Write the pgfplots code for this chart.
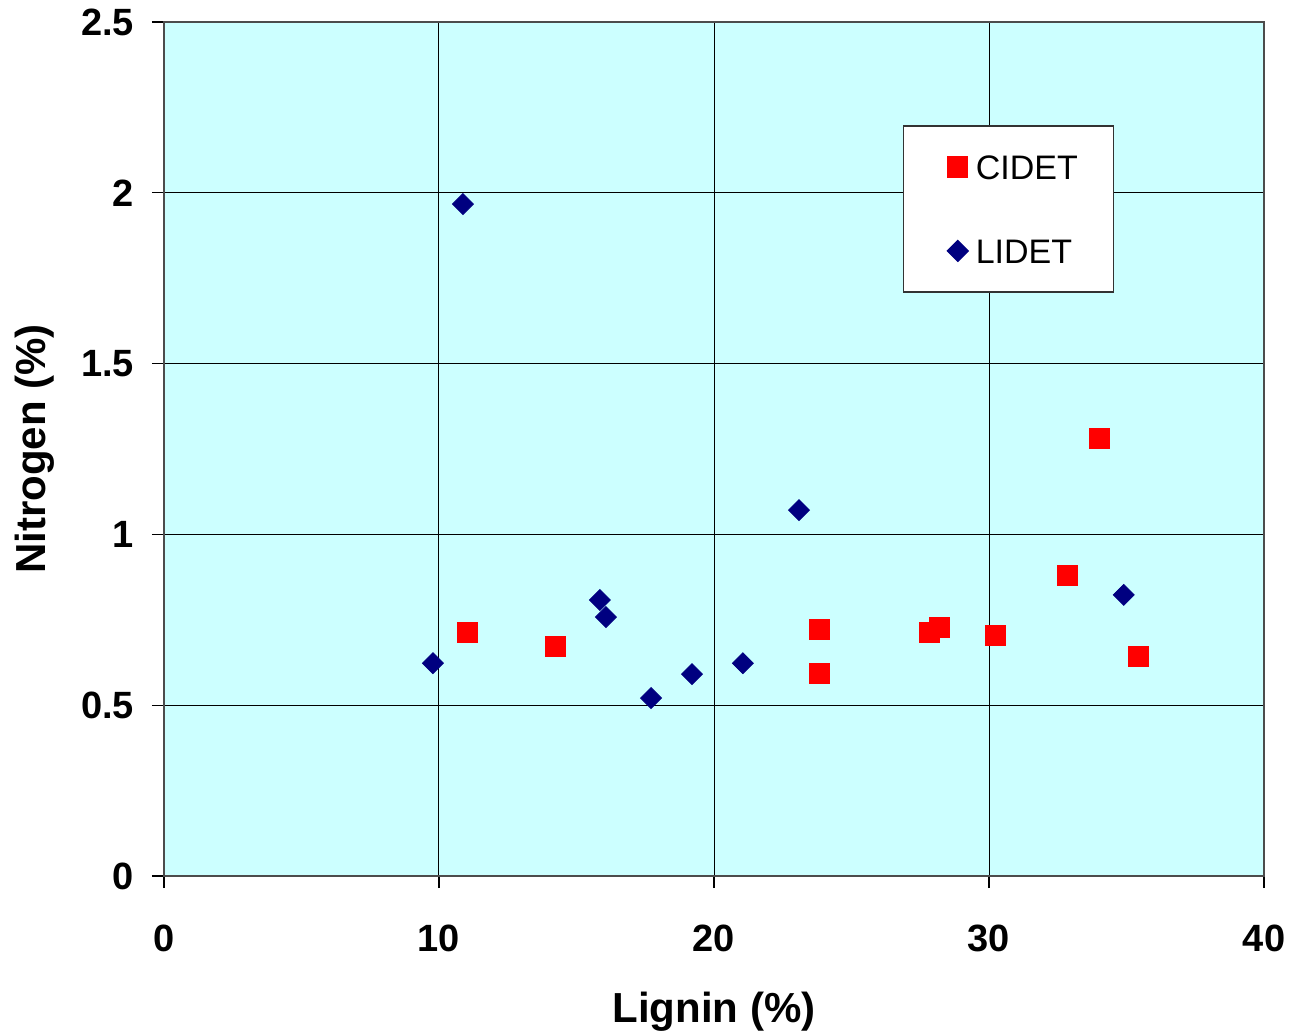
\documentclass[border=0pt]{standalone}
\usepackage{fontspec}
\setmainfont{Liberation Sans}
\usepackage{pgfplots}
\pgfplotsset{compat=1.18}
\definecolor{bgcyan}{HTML}{CCFFFF}
\definecolor{navyblue}{HTML}{000080}
\begin{document}
\begin{tikzpicture}
\path[use as bounding box] (-82pt,-79pt) rectangle (564pt,438pt);
\begin{axis}[
  width=550pt, height=427pt, scale only axis,
  xmin=0, xmax=40, ymin=0, ymax=2.5,
  xtick={0,10,20,30,40}, ytick={0,0.5,1,1.5,2,2.5},
  yticklabels={0,0.5,1,1.5,2,2.5},
  axis background/.style={fill=bgcyan},
  grid=major, major grid style={black, line width=0.5pt},
  axis line style={black!70, line width=0.8pt},
  tick align=outside, tick pos=left, major tick length=6pt,
  tick style={black, line width=0.6pt},
  /pgf/number format/assume math mode=true,
  ticklabel style={font=\bfseries\fontsize{19}{19}\selectfont},
  xticklabel style={yshift=-15pt},
  yticklabel style={xshift=-5.5pt},
  xlabel={Lignin (\%)}, ylabel={Nitrogen (\%)},
  label style={font=\bfseries\fontsize{21}{21}\selectfont},
  xlabel style={at={(rel axis cs:0.5,0)}, anchor=center, yshift=-68pt},
  ylabel style={at={(rel axis cs:0,0.5)}, anchor=center, rotate=0, yshift=64.5pt},
  legend cell align=left,
  legend image code/.code={\path[draw=none,fill=none] (0pt,0pt) -- (18pt,0pt); \draw[#1] plot coordinates {(11pt,0pt)};},
  legend style={at={(rel axis cs:0.672,0.879)}, anchor=north west,
    draw=black!80, line width=0.6pt, fill=white,
    font=\fontsize{17}{17}\selectfont,
    row sep=21pt, inner xsep=16pt, inner ysep=10pt,
    nodes={text height=15pt, text depth=2pt, inner sep=2pt}},
]
\addplot[only marks, mark=square*, mark size=5pt, color=red, mark options={fill=red, draw=red}]
coordinates {
(11.05,0.714) (14.25,0.673) (23.85,0.723) (23.85,0.594) (27.85,0.714)
(28.18,0.729) (30.25,0.703) (32.84,0.881) (34.0,1.282) (35.45,0.644)
};
\addlegendentry{CIDET}
\addplot[only marks, mark=square*, mark size=3.7pt, color=navyblue, mark options={fill=navyblue, draw=navyblue, rotate=45}]
coordinates {
(9.78,0.623) (10.87,1.967) (15.85,0.808) (16.07,0.758) (17.71,0.521)
(19.2,0.591) (21.05,0.623) (23.09,1.071) (34.9,0.823)
};
\addlegendentry{LIDET}
\end{axis}
\end{tikzpicture}
\end{document}
